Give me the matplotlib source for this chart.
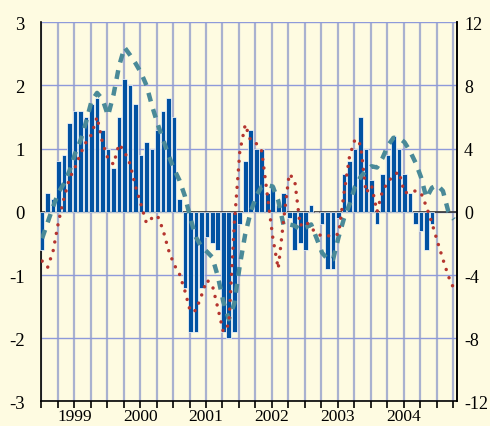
import numpy as np
import matplotlib.pyplot as plt

# series mensuales desde enero de 1999
barras = [-0.6, 0.3, 0.2, 0.8, 0.9, 1.4, 1.6, 1.6, 1.5, 1.7, 1.8, 1.3,
          1.0, 0.7, 1.5, 2.1, 2.0, 1.7, 0.9, 1.1, 1.0, 1.3, 1.6, 1.8,
          1.5, 0.2, -1.2, -1.9, -1.9, -1.2, -0.4, -0.5, -0.6, -1.9, -2.0, -1.9,
          -0.2, 0.8, 1.3, 1.0, 1.0, 0.3, 0.4, 0.1, 0.3, -0.1, -0.6, -0.5,
          -0.6, 0.1, 0.0, -0.2, -0.9, -0.9, -0.1, 0.6, 0.8, 1.0, 1.5, 1.0,
          0.5, -0.2, 0.6, 0.9, 1.2, 1.0, 0.6, 0.3, -0.2, -0.3, -0.6, -0.2]

linea_puntos = [-0.78, -0.88, -0.62, -0.15, 0.22, 0.53, 0.7, 0.92, 1.1, 1.22, 1.5, 1.09,
                0.84, 0.75, 1.07, 0.95, 0.76, 0.4, 0.12, -0.18, -0.1, -0.06, -0.28, -0.6,
                -0.83, -0.98, -1.25, -1.58, -1.56, -1.33, -1.08, -1.16, -1.52, -1.9, -1.78, -0.2,
                0.95, 1.38, 1.12, 1.08, 0.96, 0.28, -0.4, -0.9, -0.12, 0.6, 0.5, -0.22,
                -0.15, -0.25, -0.35, -0.38, -0.38, -0.38, -0.35, 0.3, 0.88, 1.15, 1.06, 0.3,
                0.42, 0.0, 0.33, 0.47, 0.58, 0.63, 0.3, 0.31, 0.33, 0.3, 0.08, -0.18,
                -0.47, -0.75, -1.02, -1.22]

linea_trazos = [-0.42, -0.17, 0.08, 0.31, 0.45, 0.65, 0.92, 1.13, 1.42, 1.75, 1.88, 1.78,
                1.52, 1.85, 2.3, 2.6, 2.48, 2.35, 2.2, 2.0, 1.68, 1.4, 1.15, 0.9,
                0.68, 0.5, 0.25, -0.1, -0.4, -0.55, -0.63, -0.72, -1.02, -1.42, -1.7, -1.45,
                -0.85, -0.35, 0.0, 0.25, 0.4, 0.42, 0.4, 0.18, -0.22, -0.2, -0.22, -0.28,
                -0.25, -0.2, -0.42, -0.65, -0.75, -0.75, -0.4, -0.1, 0.12, 0.4, 0.55, 0.65,
                0.72, 0.7, 0.85, 1.05, 1.17, 1.17, 1.1, 0.96, 0.78, 0.55, 0.22, 0.38,
                0.42, 0.33, 0.0, -0.12]

anios = ['1999', '2000', '2001', '2002', '2003', '2004']
ticks_izq = [-3, -2, -1, 0, 1, 2, 3]
ticks_der = [-12, -8, -4, 0, 4, 8, 12]

fondo = '#FEFBE1'
plt.rcParams['font.family'] = ['Liberation Serif', 'DejaVu Serif']

fig = plt.figure(figsize=(4.9, 4.27), dpi=100, facecolor=fondo)
ax = fig.add_axes([0.0843, 0.0574, 0.8484, 0.8886])
ax.set_facecolor(fondo)

desfase = 0.15
x_barras = np.arange(len(barras)) + desfase
x_lineas = np.arange(len(linea_puntos)) + desfase

ax.bar(x_barras, barras, width=0.85, color='#0152A2', edgecolor='white',
       linewidth=0.5, zorder=3, clip_on=False)
ax.axhline(0, color='#333333', lw=1.2, zorder=2.5)

ax.plot(x_lineas, linea_trazos, color='#4A8A98', lw=3.2,
        linestyle=(0, (2.0, 1.8)), dash_capstyle='butt', zorder=4)
ax.plot(x_lineas, linea_puntos, color='#B5352F', lw=2.5,
        linestyle=(0, (0.01, 2.5)), dash_capstyle='round', zorder=5)

ax.set_xlim(0, 75.72)
ax.set_ylim(-3, 3)

# rejilla: horizontales cada unidad, verticales cada trimestre
ax.set_yticks(ticks_izq)
ax.set_yticklabels([str(t) for t in ticks_izq])
ax.set_xticks(np.arange(0, 76, 3))
ax.set_xticklabels([])
# los años van centrados en cada año (corridos un poco para no chocar con los trimestres)
ax.set_xticks(np.arange(6, 72, 12) + 0.01, minor=True)
ax.set_xticklabels(anios, minor=True)
ax.grid(axis='y', color='#8E9ADA', lw=1.0, zorder=1)
ax.grid(axis='x', color='#A9B1CF', lw=1.6, zorder=1)
ax.set_axisbelow(True)

ax.tick_params(axis='y', length=0, pad=12, labelsize=13.5)
ax.tick_params(axis='x', which='major', length=5, width=1.2, direction='out', color='black')
ax.tick_params(axis='x', which='minor', length=0, pad=5, labelsize=12.5)

for lado in ['left', 'right', 'bottom']:
    ax.spines[lado].set_color('black')
    ax.spines[lado].set_linewidth(1.2)
ax.spines['top'].set_visible(False)

ax2 = ax.twinx()
ax2.set_ylim(-12, 12)
ax2.set_yticks(ticks_der)
ax2.set_yticklabels([str(t) for t in ticks_der])
ax2.tick_params(axis='y', length=0, pad=5, labelsize=13)
for lado in ['left', 'top', 'bottom']:
    ax2.spines[lado].set_visible(False)
ax2.spines['right'].set_color('black')
ax2.spines['right'].set_linewidth(1.2)

fig.savefig('out.png', dpi=100, facecolor=fondo)
